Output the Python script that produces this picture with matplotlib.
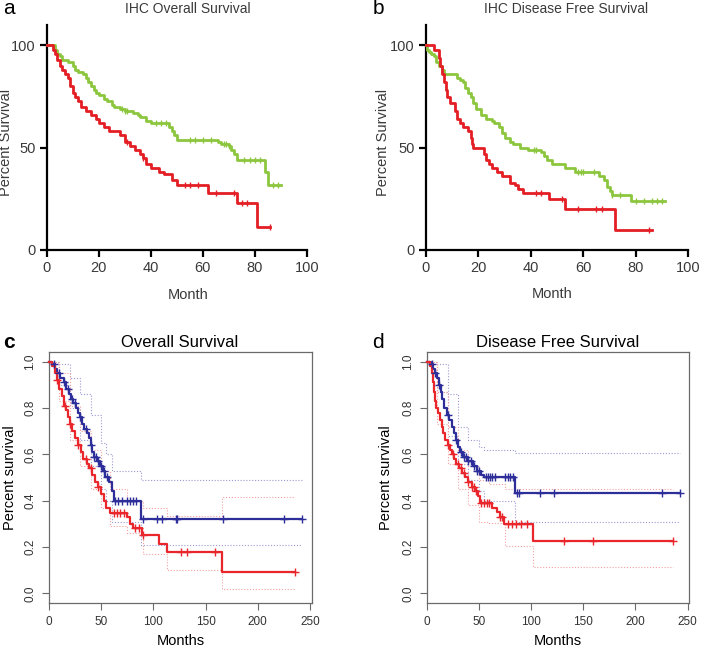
import numpy as np
import matplotlib.pyplot as plt

plt.rcParams['font.family'] = ['Liberation Sans', 'DejaVu Sans']

# ---- panel a: IHC overall survival (percent) ----
a_green_t = [0, 3, 4, 5, 6, 8, 10, 11, 12, 14, 15, 16, 17, 18, 19, 20, 22, 23, 25, 26, 28, 30, 33, 35, 36, 38, 40,
             47, 48, 49, 50, 66, 67, 70, 71, 72, 73, 84, 85]
a_green_s = [100, 98, 96, 95, 93, 92, 90, 88, 87, 86, 84, 82, 80, 78, 77, 76, 74, 73, 71, 70, 69, 68, 67, 66, 65, 63, 62,
             60, 58, 56, 54, 53, 52, 51, 49, 47, 44, 38, 32]
a_green_end = 90
a_green_cens = [29, 30, 31, 42, 44, 46, 55, 57, 60, 63, 68, 69, 70, 76, 78, 80, 82, 87, 89]

a_red_t = [0, 2.5, 3, 4, 5, 6, 7, 8, 9, 10, 11, 12, 13, 15, 17, 19, 20, 22, 24, 28, 30, 32, 34, 36, 37, 38, 40,
           43, 45, 48, 50, 62, 73, 81]
a_red_s = [100, 98, 96, 93, 90, 88, 86, 84, 80, 77, 75, 73, 70, 68, 66, 64, 62, 60, 58, 56, 53, 51, 49, 47, 45, 42, 40,
           38, 37, 34, 32, 28, 23, 11]
a_red_end = 86
a_red_cens = [31, 37, 53, 55, 58, 65, 72, 75, 77, 86]

# ---- panel b: IHC disease free survival (percent) ----
b_green_t = [0, 0.5, 1, 2, 3, 4, 5, 6, 7, 12, 13, 14, 15, 16, 17, 18, 19, 21, 23, 25, 26, 28, 29, 30, 32, 33, 36,
             39, 44, 45, 46, 48, 53, 57, 66, 68, 69, 70, 71, 78]
b_green_s = [100, 98, 97, 96, 95, 92, 90, 88, 86, 84, 83, 82, 79, 77, 75, 72, 69, 66, 64, 63, 62, 60, 57, 55, 53, 52, 50,
             49, 48, 46, 44, 42, 40, 38, 36, 34, 31, 29, 27, 24]
b_green_end = 91
b_green_cens = [41, 42, 58, 59, 60, 64, 71, 74, 80, 83, 86, 88, 90]

b_red_t = [0, 3, 5, 5.5, 6, 7, 7.5, 8, 9, 11, 12, 13, 14, 16, 17, 17.5, 18, 22, 23, 24, 25, 27, 29, 32, 34, 35, 37,
           47, 53, 72]
b_red_s = [100, 98, 94, 90, 86, 82, 78, 75, 72, 68, 64, 62, 60, 58, 55, 52, 50, 47, 44, 42, 40, 38, 36, 33, 32, 30, 28,
           25, 20, 10]
b_red_end = 86
b_red_cens = [42, 44, 52, 58, 65, 67, 85]

# ---- panel c: overall survival (fraction) ----
c_blue_t = [0, 3, 6, 8, 11, 14, 16, 19, 21, 23, 26, 28, 30, 32, 34, 36, 38, 40, 41, 43, 46, 49, 52, 54, 57, 60, 62, 88]
c_blue_s = [1.0, 0.99, 0.97, 0.95, 0.93, 0.91, 0.88, 0.86, 0.84, 0.82, 0.80, 0.78, 0.76, 0.73, 0.71, 0.69, 0.67, 0.64,
            0.61, 0.59, 0.57, 0.55, 0.53, 0.50, 0.48, 0.44, 0.40, 0.32]
c_blue_end = 242
c_blue_cens = [5, 10, 14, 18, 22, 25, 30, 35, 40, 43, 45, 47, 50, 53, 56, 63, 66, 70, 75, 78, 80, 83, 90, 103, 108,
               122, 123, 167, 225, 242]
c_blue_ci_t = [0, 10, 20, 30, 40, 50, 55, 60, 88]
c_blue_hi = [1.0, 0.99, 0.93, 0.86, 0.77, 0.65, 0.60, 0.53, 0.49]
c_blue_lo = [1.0, 0.90, 0.80, 0.66, 0.55, 0.45, 0.40, 0.31, 0.21]

c_red_t = [0, 3, 6, 8, 10, 12, 14, 16, 18, 20, 22, 25, 28, 31, 33, 36, 38, 41, 44, 47, 50, 53, 55, 58, 75, 78, 80, 89,
           105, 113, 166]
c_red_s = [1.0, 0.98, 0.95, 0.92, 0.88, 0.85, 0.81, 0.79, 0.76, 0.73, 0.70, 0.67, 0.64, 0.61, 0.58, 0.56, 0.54, 0.51,
           0.48, 0.46, 0.43, 0.40, 0.37, 0.345, 0.33, 0.30, 0.28, 0.25, 0.215, 0.18, 0.09]
c_red_end = 236
c_red_cens = [8, 15, 20, 28, 35, 40, 47, 62, 65, 68, 72, 82, 86, 90, 126, 132, 159, 236]
c_red_ci_t = [0, 10, 20, 30, 40, 50, 58, 75, 90, 113, 166]
c_red_hi = [1.0, 0.95, 0.81, 0.70, 0.62, 0.53, 0.45, 0.40, 0.37, 0.335, 0.415]
c_red_lo = [1.0, 0.83, 0.66, 0.55, 0.45, 0.37, 0.29, 0.26, 0.17, 0.10, 0.02]

# ---- panel d: disease free survival (fraction) ----
d_blue_t = [0, 4, 6, 8, 10, 12, 14, 15, 17, 19, 21, 24, 26, 28, 30, 32, 35, 40, 44, 48, 52, 55, 85]
d_blue_s = [1.0, 0.99, 0.97, 0.95, 0.93, 0.90, 0.87, 0.84, 0.80, 0.77, 0.75, 0.72, 0.69, 0.66, 0.63, 0.61, 0.59, 0.57,
            0.55, 0.53, 0.51, 0.50, 0.435]
d_blue_end = 243
d_blue_cens = [5, 8, 12, 20, 28, 33, 36, 38, 40, 42, 45, 48, 50, 57, 59, 61, 63, 65, 75, 78, 80, 83, 87, 88, 109, 122,
               225, 243]
d_blue_ci_t = [0, 10, 20, 30, 40, 50, 55, 85]
d_blue_hi = [1.0, 0.99, 0.86, 0.72, 0.66, 0.63, 0.62, 0.605]
d_blue_lo = [1.0, 0.87, 0.68, 0.56, 0.49, 0.44, 0.40, 0.31]

d_red_t = [0, 3, 5, 6, 7, 8, 9, 11, 13, 15, 16, 18, 20, 22, 24, 26, 28, 31, 34, 37, 40, 43, 46, 49, 51, 63, 67, 70, 74,
           102]
d_red_s = [1.0, 0.98, 0.95, 0.91, 0.87, 0.83, 0.80, 0.78, 0.75, 0.72, 0.69, 0.66, 0.64, 0.62, 0.60, 0.58, 0.56, 0.54,
           0.52, 0.50, 0.48, 0.46, 0.44, 0.42, 0.39, 0.37, 0.35, 0.33, 0.30, 0.227]
d_red_end = 236
d_red_cens = [20, 25, 30, 33, 36, 40, 43, 45, 47, 52, 55, 58, 60, 70, 72, 78, 82, 86, 90, 96, 132, 159, 236]
d_red_ci_t = [0, 10, 20, 30, 40, 50, 60, 75, 102]
d_red_hi = [1.0, 0.87, 0.72, 0.62, 0.55, 0.49, 0.47, 0.45, 0.45]
d_red_lo = [1.0, 0.73, 0.56, 0.45, 0.38, 0.31, 0.305, 0.205, 0.115]

GREEN = '#8cc63e'
RED_A = '#e31e24'
BLUE = '#2e2e9a'
RED_C = '#e8262c'


def km(ax, t, s, t_end, color, lw, cens, marker, ms, mew):
    t = list(t) + [t_end]
    s = list(s) + [s[-1]]
    ax.step(t, s, where='post', color=color, lw=lw, clip_on=False, zorder=3)
    idx = np.searchsorted(t, cens, side='right') - 1
    ax.plot(cens, np.array(s)[np.clip(idx, 0, len(s) - 1)], ls='none', marker=marker,
            color=color, ms=ms, mew=mew, clip_on=False, zorder=4)


def band(ax, t, vals, t_end, color):
    t = list(t) + [t_end]
    v = list(vals) + [vals[-1]]
    ax.step(t, v, where='post', color=color, lw=0.8, ls=(0, (1, 1.6)), zorder=2)


fig = plt.figure(figsize=(7.09, 6.48), dpi=100)


def prism_axes(rect):
    ax = fig.add_axes(rect)
    ax.set_xlim(0, 100)
    ax.set_ylim(0, 110)
    ax.set_xticks([0, 20, 40, 60, 80, 100])
    ax.set_yticks([0, 50, 100])
    for sp in ['top', 'right']:
        ax.spines[sp].set_visible(False)
    for sp in ['left', 'bottom']:
        ax.spines[sp].set_linewidth(1.6)
    ax.tick_params(direction='out', length=5, width=1.6, labelsize=10.5, labelcolor='#3a3a3a', pad=3)
    return ax


axa = prism_axes([0.0659, 0.6142, 0.3667, 0.3472])
km(axa, a_green_t, a_green_s, a_green_end, GREEN, 2.0, a_green_cens, '|', 4, 1.0)
km(axa, a_red_t, a_red_s, a_red_end, RED_A, 2.0, a_red_cens, '|', 4, 1.0)
axa.set_ylabel('Percent Survival', fontsize=10.5, color='#3a3a3a')
axa.yaxis.set_label_coords(-0.128, 0.48)
axa.set_xlabel('Month', fontsize=10.5, color='#3a3a3a')
axa.xaxis.set_label_coords(0.543, -0.169)

axb = prism_axes([0.6008, 0.6142, 0.3700, 0.3472])
km(axb, b_green_t, b_green_s, b_green_end, GREEN, 2.0, b_green_cens, '|', 4, 1.0)
km(axb, b_red_t, b_red_s, b_red_end, RED_A, 2.0, b_red_cens, '|', 4, 1.0)
axb.set_ylabel('Percent Survival', fontsize=10.5, color='#3a3a3a')
axb.yaxis.set_label_coords(-0.137, 0.48)
axb.set_xlabel('Month', fontsize=10.5, color='#3a3a3a')
axb.xaxis.set_label_coords(0.48, -0.163)


def r_axes(rect):
    ax = fig.add_axes(rect)
    ax.set_xlim(0, 251.6)
    ax.set_ylim(-0.043, 1.043)
    ax.set_xticks([0, 50, 100, 150, 200, 250])
    ax.set_yticks([0.0, 0.2, 0.4, 0.6, 0.8, 1.0])
    ax.set_yticklabels(['0.0', '0.2', '0.4', '0.6', '0.8', '1.0'], rotation=90, va='center')
    for sp in ax.spines.values():
        sp.set_linewidth(0.9)
        sp.set_color('#6a6a6a')
    ax.tick_params(direction='out', length=5, width=0.8, color='#6a6a6a', labelsize=8.5,
                   labelcolor='#333333', pad=4)
    ax.set_xlabel('Months', fontsize=10.5)
    ax.set_ylabel('Percent survival', fontsize=10.5)
    return ax


axc = r_axes([0.0691, 0.0690, 0.3705, 0.3883])
band(axc, c_blue_ci_t, c_blue_hi, c_blue_end, '#9a9ad4')
band(axc, c_blue_ci_t, c_blue_lo, c_blue_end, '#9a9ad4')
band(axc, c_red_ci_t, c_red_hi, c_red_end, '#f2a0a0')
band(axc, c_red_ci_t, c_red_lo, c_red_end, '#f2a0a0')
km(axc, c_blue_t, c_blue_s, c_blue_end, BLUE, 1.6, c_blue_cens, '+', 5.5, 1.0)
km(axc, c_red_t, c_red_s, c_red_end, RED_C, 1.6, c_red_cens, '+', 5.5, 1.0)
axc.yaxis.set_label_coords(-0.123, 0.5)
axc.xaxis.set_label_coords(0.5, -0.124)

axd = r_axes([0.6018, 0.0690, 0.3704, 0.3883])
band(axd, d_blue_ci_t, d_blue_hi, d_blue_end, '#9a9ad4')
band(axd, d_blue_ci_t, d_blue_lo, d_blue_end, '#9a9ad4')
band(axd, d_red_ci_t, d_red_hi, d_red_end, '#f2a0a0')
band(axd, d_red_ci_t, d_red_lo, d_red_end, '#f2a0a0')
km(axd, d_blue_t, d_blue_s, d_blue_end, BLUE, 1.6, d_blue_cens, '+', 5.5, 1.0)
km(axd, d_red_t, d_red_s, d_red_end, RED_C, 1.6, d_red_cens, '+', 5.5, 1.0)
axd.yaxis.set_label_coords(-0.127, 0.5)
axd.xaxis.set_label_coords(0.5, -0.124)

# titles and panel letters
fig.text(0.265, 0.986, 'IHC Overall Survival', ha='center', va='center', fontsize=10, color='#3a3a3a')
fig.text(0.798, 0.986, 'IHC Disease Free Survival', ha='center', va='center', fontsize=10, color='#3a3a3a')
fig.text(0.254, 0.4707, 'Overall Survival', ha='center', va='center', fontsize=12)
fig.text(0.787, 0.4707, 'Disease Free Survival', ha='center', va='center', fontsize=12)
fig.text(0.004, 0.987, 'a', ha='left', va='center', fontsize=15)
fig.text(0.525, 0.987, 'b', ha='left', va='center', fontsize=15)
fig.text(0.004, 0.4707, 'c', ha='left', va='center', fontsize=15, fontweight='bold')
fig.text(0.525, 0.4707, 'd', ha='left', va='center', fontsize=15)

fig.savefig('out.png', dpi=100)
